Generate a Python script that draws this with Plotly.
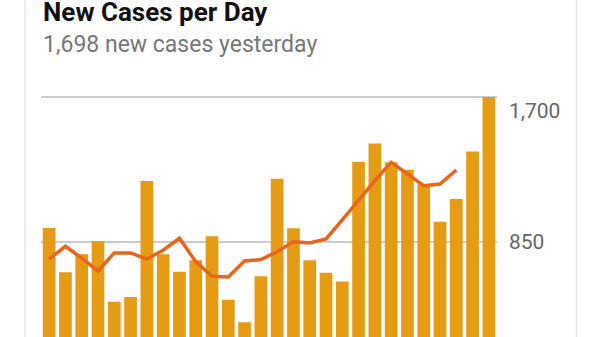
import plotly.graph_objects as go

days = ["D01", "D02", "D03", "D04", "D05", "D06", "D07", "D08", "D09", "D10",
        "D11", "D12", "D13", "D14", "D15", "D16", "D17", "D18", "D19", "D20",
        "D21", "D22", "D23", "D24", "D25", "D26", "D27", "D28"]
new_cases = [930, 670, 776, 854, 498, 526, 1206, 776, 674, 741, 882, 510, 378, 647,
             1218, 928, 741, 667, 616, 1319, 1425, 1315, 1272, 1187, 967, 1100, 1378, 1698]
avg_cases = [748, 823, 753, 678, 784, 784, 748, 800, 870, 733, 647, 643, 737, 745,
             791, 850, 842, 866, 978, 1093, 1208, 1315, 1247, 1178, 1188, 1270, None, None]
tick_vals = [850, 1700]
tick_text = ["850", "1,700"]
title_text = "New Cases per Day"
subtitle_text = "1,698 new cases yesterday"

BAR = "#E69B14"
LINE = "#E8661C"

fig = go.Figure()
fig.add_trace(go.Bar(x=days, y=new_cases, marker=dict(color=BAR, line=dict(width=0)),
                     hoverinfo="skip"))
fig.add_trace(go.Scatter(x=days, y=avg_cases, mode="lines",
                         line=dict(color=LINE, width=3.5), connectgaps=False,
                         hoverinfo="skip"))

W, H = 600, 337
ml, mr, mt, mb = 41, 103, 90, 0
pw, ph = W - ml - mr, H - mt - mb

def px_x(px):
    return (px - ml) / pw

def px_y(py):
    return 1 + (mt - py) / ph

annotations = [
    dict(text="<b>" + title_text + "</b>", x=px_x(41), y=px_y(12), xref="paper", yref="paper",
         xanchor="left", yanchor="middle", showarrow=False,
         font=dict(family="Roboto", size=26, color="#111111")),
    dict(text=subtitle_text, x=px_x(41), y=px_y(45), xref="paper", yref="paper",
         xanchor="left", yanchor="middle", showarrow=False,
         font=dict(family="Roboto", size=23, color="#777777")),
]
label_shift = {850: 0, 1700: -14}
for v, t in zip(tick_vals, tick_text):
    annotations.append(dict(text=t, x=px_x(507), y=v, xref="paper", yref="y",
                            xanchor="left", yanchor="middle", showarrow=False,
                            yshift=label_shift[v],
                            font=dict(family="Roboto", size=21, color="#666666")))

shapes = [
    dict(type="line", xref="paper", yref="paper", x0=px_x(25), x1=px_x(25),
         y0=px_y(H), y1=px_y(0), line=dict(color="#E6E6E6", width=1.5)),
    dict(type="line", xref="paper", yref="paper", x0=px_x(576.5), x1=px_x(576.5),
         y0=px_y(H), y1=px_y(0), line=dict(color="#E6E6E6", width=1.5)),
]

fig.update_layout(
    width=W, height=H,
    margin=dict(l=ml, r=mr, t=mt, b=mb, pad=0),
    paper_bgcolor="white", plot_bgcolor="white",
    showlegend=False, bargap=0.22,
    annotations=annotations, shapes=shapes,
    xaxis=dict(type="category", showgrid=False, showline=False, zeroline=False,
               showticklabels=False, ticks="", range=[-0.5, 27.5]),
    yaxis=dict(range=[291, 1739], tickvals=tick_vals, showticklabels=False,
               showgrid=True, gridcolor="#CCCCCC", gridwidth=1.5, zeroline=False,
               showline=False, ticks="", layer="below traces"),
)

fig.write_html("out.html")
